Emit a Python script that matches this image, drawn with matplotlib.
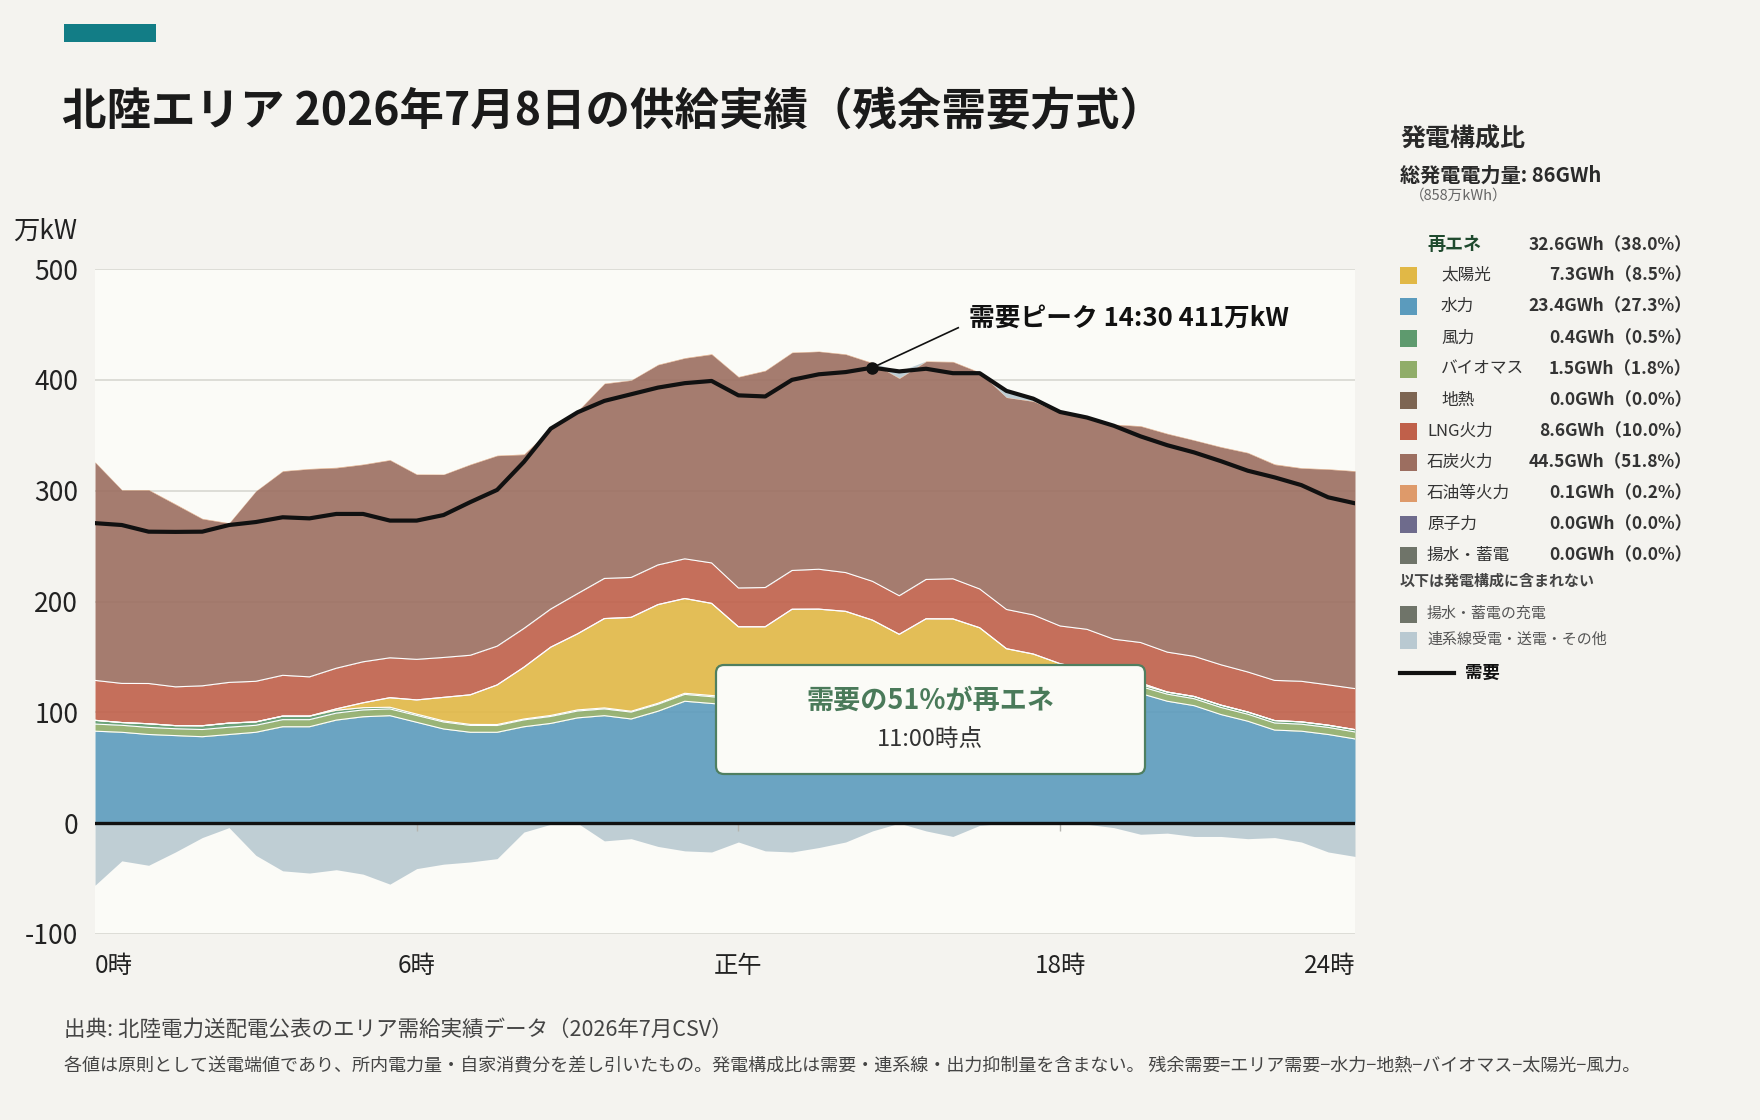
import numpy as np
import matplotlib
matplotlib.use("Agg")
import matplotlib.pyplot as plt
from matplotlib.patches import Rectangle, FancyBboxPatch
from matplotlib.lines import Line2D

plt.rcParams["font.family"] = ["Noto Sans CJK JP", "DejaVu Sans"]
plt.rcParams["axes.unicode_minus"] = False

# =========================================================
# DATA  (万kW, 30分値 0:00〜23:30)
# =========================================================

slot_labels = [f"{h}:{m:02d}" for h in range(24) for m in (0, 30)]

hydro = [83, 82, 80, 79, 78, 80, 82, 87, 87, 93,
         96, 97, 91, 85, 82, 82, 87, 90, 95, 97,
         94, 101, 110, 108, 106, 105, 106, 107, 108, 108,
         109, 110, 111, 112, 113, 114, 115, 118, 117, 117,
         110, 106, 98, 92, 84, 83, 80, 76]

biomass = [6.4, 6.3, 6.4, 6.2, 6.5, 6.6, 6.3, 6.4, 6.4, 6.3,
           6.2, 6.1, 6.2, 6.3, 6.2, 6.1, 6.2, 6.3, 6.2, 6.1,
           6.2, 6.3, 6.2, 6.1, 6.2, 6.3, 6.2, 6.2, 6.1, 6.2,
           6.3, 6.2, 6.2, 6.3, 6.2, 6.3, 6.4, 6.3, 6.4, 6.3,
           6.4, 6.3, 6.4, 6.3, 6.4, 6.3, 6.4, 6.3]

wind = [3.4, 2.5, 3.3, 2.8, 3.4, 3.7, 3.1, 3.2, 3.2, 2.6,
        2.0, 1.5, 1.2, 1.0, 0.9, 0.9, 0.8, 0.9, 1.0, 0.9,
        0.8, 0.9, 1.0, 1.1, 1.0, 0.9, 0.8, 0.9, 1.0, 1.0,
        1.1, 1.2, 1.1, 1.0, 1.2, 1.3, 1.5, 1.6, 1.8, 1.7,
        1.9, 2.0, 2.1, 2.0, 2.2, 2.1, 2.0, 2.1]

solar = [0, 0, 0, 0, 0, 0, 0, 0, 0, 1.2,
         4.4, 8.6, 12.8, 21.2, 26.7, 35.7, 46.7, 61.6, 68.6, 80.6,
         84.7, 89.0, 85.5, 83.1, 64.0, 65.0, 80.0, 79.0, 76.0, 68.0,
         54.0, 67.0, 66.0, 57.0, 37.0, 31.0, 21.0, 13.0, 5.0, 1.5,
         0, 0, 0, 0, 0, 0, 0, 0]

geothermal = [0.0] * 48

lng = [36.0, 35.3, 36.3, 35.0, 36.0, 36.7, 36.6, 36.8, 35.4, 36.7,
       37.0, 36.0, 36.6, 36.0, 35.7, 35.0, 35.0, 34.4, 36.3, 36.2,
       36.0, 35.8, 35.8, 36.5, 35.0, 35.4, 35.0, 36.0, 35.0, 35.0,
       34.8, 35.5, 36.2, 35.0, 35.4, 35.3, 34.0, 36.0, 35.8, 36.5,
       36.0, 36.2, 36.4, 36.1, 36.2, 36.6, 36.4, 37.0]

coal = [196.8, 174.5, 174.6, 164.6, 150.7, 143.6, 171.6, 184.2, 187.6, 180.8,
        178.0, 178.4, 166.8, 165.1, 172.1, 171.9, 156.9, 162.4, 164.5, 175.8,
        177.9, 180.6, 181.1, 188.2, 190.4, 195.6, 196.6, 196.5, 196.9, 196.9,
        196.1, 196.7, 195.7, 195.3, 191.3, 192.7, 192.4, 190.7, 193.6, 195.2,
        197.0, 195.0, 196.4, 197.7, 194.8, 192.3, 194.5, 196.2]

oil = [0.4, 0.3, 0.4, 0.5, 0.4, 0.4, 0.3, 0.4, 0.4, 0.5,
       0.4, 0.4, 0.4, 0.3, 0.4, 0.4, 0.5, 0.4, 0.4, 0.4,
       0.3, 0.4, 0.4, 0.5, 0.4, 0.4, 0.4, 0.3, 0.4, 0.4,
       0.5, 0.4, 0.4, 0.4, 0.3, 0.4, 0.4, 0.5, 0.4, 0.4,
       0.4, 0.3, 0.4, 0.4, 0.5, 0.4, 0.4, 0.4]

nuclear = [0.0] * 48
pumped = [0.0] * 48

# 連系線 (+受電 / -送電・その他)
interconnect = [-56, -34, -38, -26, -13, -4, -29, -43, -45, -42,
                -46, -55, -41, -37, -35, -32, -8, -1, 0, -16,
                -14, -21, -25, -26, -17, -25, -26, -22, -17, -7,
                6, -7, -12, -2, 5, 2, -1, -1, -4, -10,
                -9, -12, -12, -14, -13, -17, -26, -30]

demand = [270.7, 269, 263, 262.8, 263, 269, 271.7, 276, 275, 279,
          279, 273, 273, 278, 289.7, 300.7, 326, 356, 370.7, 381,
          387, 393, 397, 399, 386, 385, 400, 405, 407, 411,
          407.6, 410, 406, 406, 390, 383, 371, 366, 358.6, 349,
          341, 334.5, 326.6, 318, 312, 305, 294, 288.6]

x_tick_pos = [0, 12, 24, 36, 47]
x_tick_labels = ["0時", "6時", "正午", "18時", "24時"]
y_ticks = [-100, 0, 100, 200, 300, 400, 500]

# 発電構成比 (凡例)
mix_names = ["再エネ", "太陽光", "水力", "風力", "バイオマス", "地熱",
             "LNG火力", "石炭火力", "石油等火力", "原子力", "揚水・蓄電"]
mix_gwh = [32.6, 7.3, 23.4, 0.4, 1.5, 0.0, 8.6, 44.5, 0.1, 0.0, 0.0]
mix_pct = [38.0, 8.5, 27.3, 0.5, 1.8, 0.0, 10.0, 51.8, 0.2, 0.0, 0.0]
mix_indent = [0, 1, 1, 1, 1, 1, 0, 0, 0, 0, 0]

total_gwh = 86
total_man_kwh = 858
share_slot = 22   # 11:00

# =========================================================
# COLORS
# =========================================================

C = {
    "太陽光": "#e1b846",
    "水力": "#5b9bbd",
    "風力": "#5e9a6e",
    "バイオマス": "#90ad69",
    "地熱": "#7d6552",
    "LNG火力": "#c0604a",
    "石炭火力": "#9c6e60",
    "石油等火力": "#de9a6a",
    "原子力": "#6e6b8c",
    "揚水・蓄電": "#6f7469",
    "充電": "#6f7469",
    "連系線": "#b9c9d1",
}

BG = "#f4f3ef"
PLOT_BG = "#fbfbf7"

W_PX, H_PX = 1760, 1120


def px(x, y):
    return x / W_PX, 1 - y / H_PX


# =========================================================
# FIGURE
# =========================================================

fig = plt.figure(figsize=(W_PX / 100, H_PX / 100), dpi=100, facecolor=BG)

ax = fig.add_axes([95 / W_PX, 1 - 934 / H_PX, 1260 / W_PX, 665 / H_PX])
ax.set_facecolor(PLOT_BG)

slots = np.arange(len(demand))
inter = np.array(interconnect, dtype=float)
inter_pos = np.clip(inter, 0, None)
inter_neg = np.clip(inter, None, 0)

stack = [
    (hydro, C["水力"]),
    (biomass, C["バイオマス"]),
    (wind, C["風力"]),
    (solar, C["太陽光"]),
    (geothermal, C["地熱"]),
    (lng, C["LNG火力"]),
    (coal, C["石炭火力"]),
    (oil, C["石油等火力"]),
    (nuclear, C["原子力"]),
    (pumped, C["揚水・蓄電"]),
    (inter_pos, C["連系線"]),
]

base = np.zeros(len(slots))
bounds = []
for values, color in stack:
    values = np.asarray(values, dtype=float)
    if np.any(values > 0):
        ax.fill_between(slots, base, base + values, color=color,
                        alpha=0.9, linewidth=0, zorder=2)
    base = base + values
    bounds.append(base.copy())

# 白い境界線 (水力/バイオマス/風力/太陽光/LNG の上端)
for b in bounds[:6]:
    ax.plot(slots, b, color="white", lw=0.8, zorder=3)

ax.fill_between(slots, inter_neg, 0, color=C["連系線"], alpha=0.9,
                linewidth=0, zorder=2)

ax.axhline(0, color="#111111", lw=2.4, zorder=4)
ax.vlines(x_tick_pos[1:-1], -7, 0, color="#b5b5b0", lw=1, zorder=3)

ax.plot(slots, demand, color="#111111", lw=3, zorder=5,
        solid_joinstyle="round", solid_capstyle="round")

# ---------------------------------------------------------
# 需要ピーク
# ---------------------------------------------------------

peak = int(np.argmax(demand))
ax.plot(peak, demand[peak], "o", color="#111111", ms=8, zorder=6)
ax.plot([peak, 32.2], [demand[peak], 447], color="#111111", lw=1.2, zorder=6)
ax.text(32.6, 456, f"需要ピーク {slot_labels[peak]} {demand[peak]:.0f}万kW",
        fontsize=18.5, fontweight="bold", color="#111111",
        ha="left", va="center", zorder=7)

# ---------------------------------------------------------
# AXES
# ---------------------------------------------------------

ax.set_xlim(0, len(slots) - 1)
ax.set_ylim(-100, 500)
ax.set_yticks(y_ticks)
ax.set_yticklabels([str(v) for v in y_ticks])
ax.set_xticks(x_tick_pos)
ax.set_xticklabels(x_tick_labels)
labels = ax.get_xticklabels()
labels[0].set_ha("left")
labels[-1].set_ha("right")

ax.tick_params(axis="y", length=0, pad=12, labelsize=19, labelcolor="#222222")
ax.tick_params(axis="x", length=0, pad=14, labelsize=17.5, labelcolor="#222222")
ax.grid(axis="y", color="#d8d7d1", lw=1.2, zorder=1)
ax.grid(axis="x", visible=False)
ax.set_axisbelow(True)
for s in ax.spines.values():
    s.set_visible(False)

fig.text(*px(13, 231), "万kW", fontsize=19, color="#222222", va="center")

# ---------------------------------------------------------
# TITLE
# ---------------------------------------------------------

fig.add_artist(Rectangle(px(64, 42), 92 / W_PX, 18 / H_PX,
                         transform=fig.transFigure, color="#127d86", lw=0))
fig.text(*px(62, 112), "北陸エリア 2026年7月8日の供給実績（残余需要方式）",
         fontsize=32, fontweight="bold", color="#1a1a1a", va="center")

# ---------------------------------------------------------
# 再エネ比率ボックス
# ---------------------------------------------------------

renew = hydro[share_slot] + solar[share_slot] + wind[share_slot] \
    + biomass[share_slot] + geothermal[share_slot]
share = renew / demand[share_slot] * 100

box = FancyBboxPatch((7.16, (H_PX - 774) / 100), 4.29, 1.09,
                     boxstyle="round,pad=0,rounding_size=0.08",
                     transform=fig.dpi_scale_trans,
                     facecolor=PLOT_BG, edgecolor="#4f7f60", lw=1.6, zorder=10)
fig.add_artist(box)
fig.text(*px(930, 701), f"需要の{share:.0f}%が再エネ", fontsize=19.5,
         fontweight="bold", color="#4a7a5a", ha="center", va="center", zorder=11)
fig.text(*px(930, 739), f"{slot_labels[share_slot]}時点", fontsize=17,
         color="#333333", ha="center", va="center", zorder=11)

# ---------------------------------------------------------
# LEGEND
# ---------------------------------------------------------

fig.text(*px(1400, 139), "発電構成比", fontsize=18, fontweight="bold",
         color="#2a2a2a", va="center")
fig.text(*px(1400, 175), f"総発電電力量: {total_gwh}GWh", fontsize=14.5,
         fontweight="bold", color="#2a2a2a", va="center")
fig.text(*px(1410, 196), f"（{total_man_kwh}万kWh）", fontsize=10.5,
         color="#666666", va="center")

row_y = [245, 275, 306, 338, 369, 400, 431, 462, 493, 524, 555]
for name, g, p, ind, y in zip(mix_names, mix_gwh, mix_pct, mix_indent, row_y):
    group = name == "再エネ"
    if not group:
        fig.add_artist(Rectangle(px(1400, y + 8.5), 17 / W_PX, 17 / H_PX,
                                 transform=fig.transFigure,
                                 color=C[name], lw=0))
    fig.text(*px(1441 if ind else 1427, y), name,
             fontsize=12 if not group else 13,
             fontweight="bold" if group else "normal",
             color="#1f4a2e" if group else "#333333", va="center")
    fig.text(*px(1692, y), f"{g:.1f}GWh（{p:.1f}%）", fontsize=12.5,
             fontweight="bold", color="#333333", ha="right", va="center")

fig.text(*px(1400, 581), "以下は発電構成に含まれない", fontsize=10.8,
         fontweight="bold", color="#444444", va="center")

for name, color, y in [("揚水・蓄電の充電", C["充電"], 614),
                       ("連系線受電・送電・その他", C["連系線"], 640)]:
    fig.add_artist(Rectangle(px(1400, y + 8.5), 17 / W_PX, 17 / H_PX,
                             transform=fig.transFigure, color=color, lw=0))
    fig.text(*px(1427, y), name, fontsize=10.8, color="#555555", va="center")

fig.add_artist(Line2D([px(1400, 0)[0], px(1454, 0)[0]],
                      [px(0, 673)[1], px(0, 673)[1]],
                      transform=fig.transFigure, color="#111111", lw=3))
fig.text(*px(1465, 673), "需要", fontsize=12.5, fontweight="bold",
         color="#111111", va="center")

# ---------------------------------------------------------
# FOOTER
# ---------------------------------------------------------

fig.text(*px(64, 1030), "出典: 北陸電力送配電公表のエリア需給実績データ（2026年7月CSV）",
         fontsize=15.5, color="#444444", va="center")
fig.text(*px(64, 1066),
         "各値は原則として送電端値であり、所内電力量・自家消費分を差し引いたもの。"
         "発電構成比は需要・連系線・出力抑制量を含まない。 "
         "残余需要=エリア需要−水力−地熱−バイオマス−太陽光−風力。",
         fontsize=13, color="#444444", va="center")

fig.savefig("out.png", dpi=100, facecolor=BG)
